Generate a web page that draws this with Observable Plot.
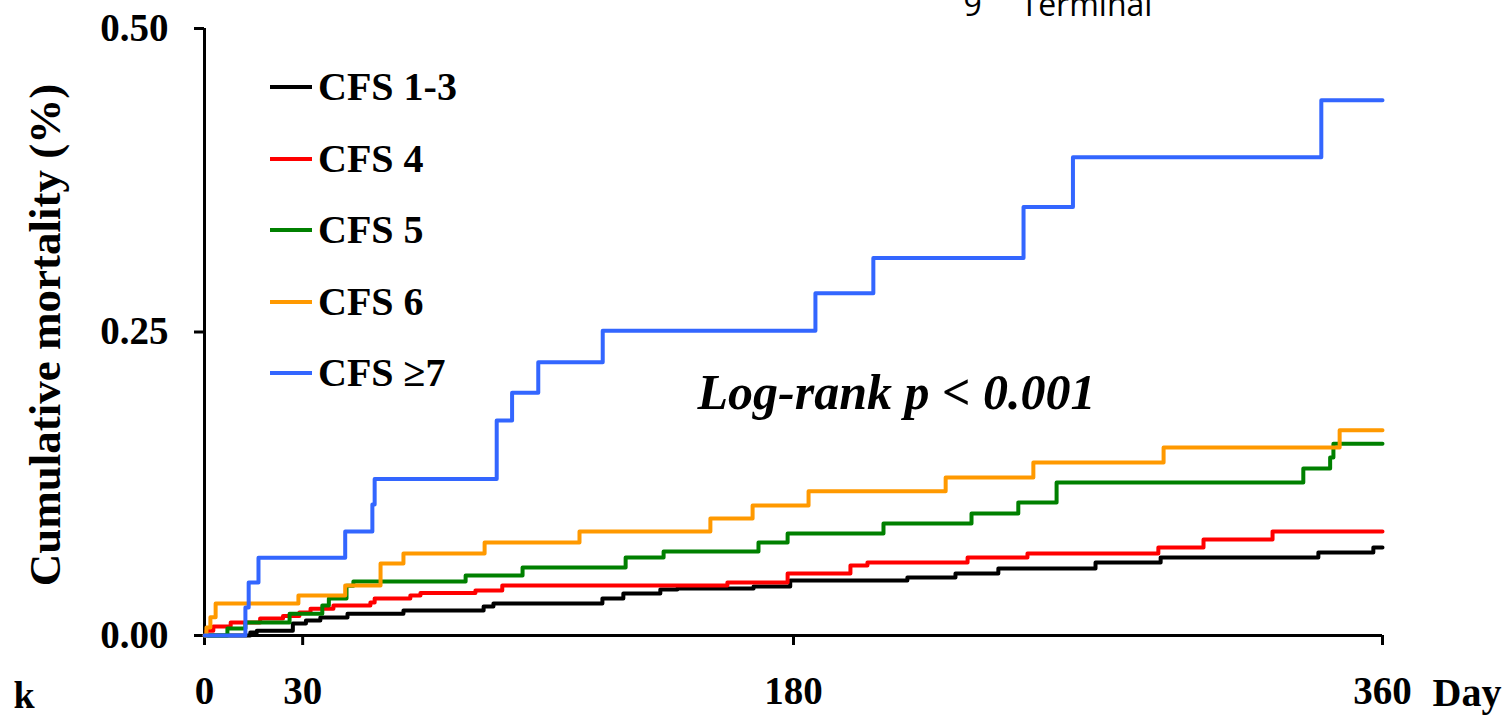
<!DOCTYPE html>
<html>
<head>
<meta charset="utf-8">
<script src="https://cdn.jsdelivr.net/npm/d3@7"></script>
<script src="https://cdn.jsdelivr.net/npm/@observablehq/plot@0.6"></script>
<style>
  html, body { margin: 0; padding: 0; background: #fff; }
  #wrap { position: relative; width: 1512px; height: 716px; overflow: hidden; }
  .leg { position: absolute; left: 270px; height: 40px; display: flex; align-items: center;
         font-family: 'Liberation Serif', 'Times New Roman', serif; font-weight: bold; font-size: 40px; line-height: 40px; color: #000; white-space: nowrap; }
  .leg .sw { display: inline-block; width: 42px; height: 4px; margin-right: 6px; }
</style>
</head>
<body>
<div id="wrap"></div>
<script>
// ---- data ----
const groups = ["CFS 1-3", "CFS 4", "CFS 5", "CFS 6", "CFS \u22657"];
const colors = ["#000000", "#ff0000", "#008000", "#ff9900", "#3366ff"];
const xTicks = [0, 30, 180, 360];
const yTicks = [0, 0.25, 0.5];

const cfs13Days = [0, 14, 16, 27, 31, 35.4, 43.7, 60.8, 85.3, 88.3, 121.6, 128, 139.3, 144.5, 167.8, 179, 214.8, 229.5, 242.6, 272.3, 292.2, 340.4, 357.2, 360];
const cfs13Vals = [0, 0.0025, 0.004, 0.0099, 0.0124, 0.0148, 0.018, 0.0206, 0.0239, 0.0264, 0.0305, 0.0346, 0.0379, 0.0387, 0.0404, 0.0453, 0.0478, 0.051, 0.0552, 0.0601, 0.0643, 0.0684, 0.0725, 0.0725];

const cfs4Days = [0, 0.6, 2.7, 8, 17, 24, 29, 32.4, 39.4, 50.7, 52, 62.9, 66, 82.8, 91, 159.8, 178.2, 197.4, 202.6, 233.2, 251.5, 291.5, 305.3, 326.4, 360];
const cfs4Vals = [0, 0.004, 0.0074, 0.0107, 0.014, 0.016, 0.019, 0.022, 0.0247, 0.0272, 0.0305, 0.033, 0.035, 0.037, 0.0412, 0.0437, 0.051, 0.0577, 0.0601, 0.0643, 0.0675, 0.0725, 0.079, 0.0857, 0.0857];

const cfs5Days = [0, 7, 12.5, 26, 36, 38, 43.4, 45.5, 79.8, 97.2, 128.7, 140.3, 169.3, 178.2, 207.5, 234.4, 248.7, 260.4, 335.8, 344, 345, 360];
const cfs5Vals = [0, 0.0057, 0.0107, 0.018, 0.0247, 0.0305, 0.041, 0.0445, 0.0494, 0.056, 0.0643, 0.0692, 0.0766, 0.084, 0.0922, 0.1005, 0.1096, 0.126, 0.1376, 0.1466, 0.158, 0.158];

const cfs6Days = [0, 0.6, 1.8, 3.4, 28.7, 43, 53.8, 60.8, 85.6, 114.6, 154.6, 167.5, 184.6, 226.5, 253.3, 293.1, 346.9, 360];
const cfs6Vals = [0, 0.0066, 0.015, 0.0264, 0.0330, 0.0412, 0.0593, 0.0675, 0.0766, 0.0856, 0.0964, 0.1071, 0.1189, 0.1301, 0.1425, 0.1549, 0.169, 0.169];

const cfs7Days = [0, 12.5, 13.5, 16.5, 43, 51.3, 52, 89.3, 94, 102, 121.7, 186.7, 204.4, 250.3, 265.4, 341.3, 360];
const cfs7Vals = [0, 0.023, 0.0437, 0.064, 0.0857, 0.108, 0.129, 0.177, 0.2, 0.225, 0.251, 0.282, 0.311, 0.353, 0.394, 0.441, 0.441];

const seriesDays = [cfs13Days, cfs4Days, cfs5Days, cfs6Days, cfs7Days];
const seriesVals = [cfs13Vals, cfs4Vals, cfs5Vals, cfs6Vals, cfs7Vals];

const rows = [];
groups.forEach((g, i) => {
  seriesDays[i].forEach((d, j) => rows.push({group: g, day: d, value: seriesVals[i][j]}));
});

const serif = "'Liberation Serif', 'Times New Roman', serif";

const chart = Plot.plot({
  width: 1512,
  height: 716,
  marginLeft: 204,
  marginRight: 130,
  marginTop: 28,
  marginBottom: 81,
  x: {domain: [0, 360]},
  y: {domain: [0, 0.5]},
  color: {domain: groups, range: colors},
  style: {fontFamily: serif, fontWeight: "bold", background: "white", color: "#000", overflow: "visible"},
  marks: [
    Plot.axisX({ticks: xTicks, tickSize: 10, tickPadding: 31, strokeWidth: 3, fontSize: 39, fontWeight: "bold", label: null}),
    Plot.axisY({ticks: yTicks, tickSize: 10, tickPadding: 26, strokeWidth: 3, fontSize: 39, fontWeight: "bold", tickFormat: d3.format(".2f"), label: null}),
    Plot.ruleX([0], {strokeWidth: 3}),
    Plot.ruleY([0], {strokeWidth: 3}),
    Plot.line(rows, {x: "day", y: "value", z: "group", stroke: "group", curve: "step-after", strokeWidth: 4}),
    Plot.text(["Cumulative mortality (%)"], {frameAnchor: "left", dx: -159, dy: 3, rotate: -90, fontSize: 45, fontWeight: "bold", textAnchor: "middle", lineAnchor: "middle"}),
    Plot.text(["Log-rank p < 0.001"], {frameAnchor: "top-left", dx: 493, dy: 380, fontSize: 50, fontWeight: "bold", fontStyle: "italic", textAnchor: "start", lineAnchor: "bottom"}),
    Plot.text(["Day"], {frameAnchor: "bottom-right", dx: 50, dy: 70, fontSize: 40, fontWeight: "bold", textAnchor: "start", lineAnchor: "bottom"}),
    Plot.text(["k"], {frameAnchor: "bottom-left", dx: -191, dy: 72, fontSize: 38, fontWeight: "bold", textAnchor: "start", lineAnchor: "bottom"}),
    Plot.text(["9"], {frameAnchor: "top-left", dx: 759, dy: -13, fontSize: 32, fontWeight: "normal", fontFamily: "'Open Sans', sans-serif", textAnchor: "start", lineAnchor: "bottom"}),
    Plot.text(["Terminal"], {frameAnchor: "top-left", dx: 816, dy: -13, fontSize: 32, fontWeight: "normal", fontFamily: "'Open Sans', sans-serif", textAnchor: "start", lineAnchor: "bottom"})
  ]
});

const wrap = document.getElementById("wrap");
wrap.appendChild(chart);

// legend (HTML overlay)
groups.forEach((g, i) => {
  const row = document.createElement("div");
  row.className = "leg";
  row.style.top = (87 + i * 71.5 - 20) + "px";
  const sw = document.createElement("span");
  sw.className = "sw";
  sw.style.background = colors[i];
  row.appendChild(sw);
  row.appendChild(document.createTextNode(g));
  wrap.appendChild(row);
});
</script>
</body>
</html>
